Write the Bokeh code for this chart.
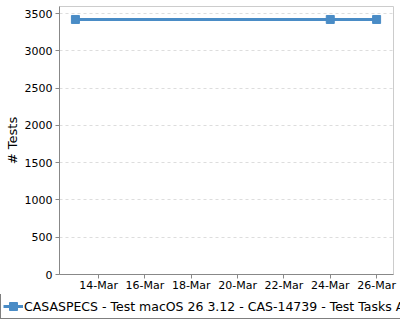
from datetime import datetime
from bokeh.plotting import figure
from bokeh.layouts import column, row
from bokeh.models import (Range1d, DatetimeTickFormatter, DaysTicker, SingleIntervalTicker,
                          Legend, LegendItem, ColumnDataSource)
from bokeh.embed import file_html
from bokeh.resources import INLINE

dates = ["2025-03-13", "2025-03-24", "2025-03-26"]
tests = [3420, 3420, 3420]
series_name = "CASASPECS - Test macOS 26 3.12 - CAS-14739 - Test Tasks Analysis"

x = [datetime.strptime(d, "%Y-%m-%d") for d in dates]
src = ColumnDataSource(dict(x=x, y=tests))

FONT = "DejaVu Sans"
COLOR = "#4a8cc6"

p = figure(width=400, height=294, output_backend="svg", toolbar_location=None,
           x_axis_type="datetime", min_border_left=59, min_border_right=7,
           min_border_top=6, min_border_bottom=20)
p.x_range = Range1d(datetime(2025, 3, 12, 7, 30), datetime(2025, 3, 26, 17, 30))
p.y_range = Range1d(0, 3594)

r_line = p.line("x", "y", source=src, line_color=COLOR, line_width=3)
r_pts = p.scatter("x", "y", source=src, marker="square", size=8,
                  fill_color=COLOR, line_color=COLOR)

p.xaxis.ticker = DaysTicker(days=list(range(2, 32, 2)))
p.xaxis.formatter = DatetimeTickFormatter(days="%d-%b", months="%d-%b")
p.yaxis.ticker = SingleIntervalTicker(interval=500)
p.yaxis.axis_label = "# Tests"

for ax in (p.xaxis[0], p.yaxis[0]):
    ax.major_label_text_font = FONT
    ax.major_label_text_font_size = "11px"
    ax.major_label_text_color = "#000000"
    ax.axis_line_color = "#888888"
    ax.major_tick_line_color = "#888888"
    ax.major_tick_in = 0
    ax.major_tick_out = 4
    ax.minor_tick_line_color = None
    ax.axis_label_text_font = FONT
    ax.axis_label_text_font_style = "normal"
    ax.axis_label_text_font_size = "13px"
    ax.axis_label_text_color = "#000000"
p.xaxis.major_label_standoff = 0
p.yaxis.major_label_standoff = 3
p.yaxis.axis_label_standoff = 2

p.xgrid.grid_line_color = None
p.ygrid.grid_line_color = "#dddddd"
p.ygrid.grid_line_dash = "3 3"
p.outline_line_color = "#cccccc"
p.background_fill_color = "white"
p.border_fill_color = "white"

# legend strip below the chart
lg = figure(width=400, height=26, output_backend="svg", toolbar_location=None,
            x_axis_location=None, y_axis_location=None,
            min_border_left=0, min_border_right=0, min_border_top=0, min_border_bottom=0)
lg.x_range = Range1d(0, 1)
lg.y_range = Range1d(0, 1)
lg.grid.grid_line_color = None
lg.outline_line_color = None
l_line = lg.line("x", "y", source=src, line_color=COLOR, line_width=3)
l_pts = lg.scatter("x", "y", source=src, marker="square", size=7,
                   fill_color=COLOR, line_color=COLOR)

legend = Legend(items=[LegendItem(label=series_name, renderers=[l_line, l_pts])],
                location=(0, 1), orientation="horizontal",
                label_text_font=FONT, label_text_font_size="12.5px",
                label_text_color="#000000",
                border_line_color="#000000", border_line_width=1,
                background_fill_color="white", background_fill_alpha=1,
                padding=2, spacing=0, margin=0, glyph_width=20, glyph_height=20,
                label_height=20, label_standoff=1)
lg.add_layout(legend, "center")

layout = column(p, row(lg, spacing=0), spacing=0)
open("out.html", "w").write(file_html(layout, INLINE))
